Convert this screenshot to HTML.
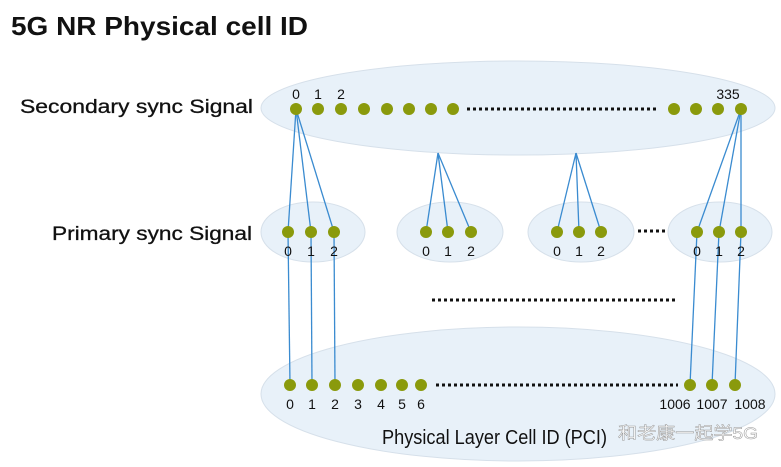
<!DOCTYPE html>
<html><head><meta charset="utf-8"><style>
html,body{margin:0;padding:0;background:#fff;width:781px;height:467px;overflow:hidden}
svg{display:block}
text{font-family:"Liberation Sans","Noto Sans CJK SC",sans-serif}
</style></head><body>
<svg width="781" height="467" viewBox="0 0 781 467" xmlns="http://www.w3.org/2000/svg">
<text x="11" y="35" font-size="26" font-weight="bold" fill="#111" textLength="297" lengthAdjust="spacingAndGlyphs">5G NR Physical cell ID</text>
<text x="20" y="113" font-size="19" fill="#111" stroke="#111" stroke-width="0.3" textLength="233" lengthAdjust="spacingAndGlyphs">Secondary sync Signal</text>
<text x="52" y="240" font-size="19" fill="#111" stroke="#111" stroke-width="0.3" textLength="200" lengthAdjust="spacingAndGlyphs">Primary sync Signal</text>

<g fill="#e8f1f9" stroke="#d6e0ea" stroke-width="1">
<ellipse cx="518" cy="108" rx="257" ry="47"/>
<ellipse cx="313" cy="232" rx="52" ry="30"/>
<ellipse cx="450" cy="232" rx="53" ry="30"/>
<ellipse cx="581" cy="232" rx="53" ry="30"/>
<ellipse cx="720" cy="232" rx="52" ry="30"/>
<ellipse cx="518" cy="394" rx="257" ry="67"/>
</g>

<g stroke="#3a8bd0" stroke-width="1.3" fill="none">
<line x1="296" y1="109" x2="288" y2="232"/><line x1="296" y1="109" x2="311" y2="232"/><line x1="296" y1="109" x2="334" y2="232"/>
<line x1="438" y1="153" x2="426" y2="232"/><line x1="438" y1="153" x2="448" y2="232"/><line x1="438" y1="153" x2="471" y2="232"/>
<line x1="576" y1="153" x2="557" y2="232"/><line x1="576" y1="153" x2="579" y2="232"/><line x1="576" y1="153" x2="601" y2="232"/>
<line x1="741" y1="109" x2="697" y2="232"/><line x1="741" y1="109" x2="719" y2="232"/><line x1="741" y1="109" x2="741" y2="232"/>
<line x1="288" y1="232" x2="290" y2="385"/><line x1="311" y1="232" x2="312" y2="385"/><line x1="334" y1="232" x2="335" y2="385"/>
<line x1="697" y1="232" x2="690" y2="385"/><line x1="719" y1="232" x2="712" y2="385"/><line x1="741" y1="232" x2="735" y2="385"/>
</g>

<g fill="#8a9a0c">
<circle cx="296" cy="109" r="6"/><circle cx="318" cy="109" r="6"/><circle cx="341" cy="109" r="6"/><circle cx="364" cy="109" r="6"/><circle cx="387" cy="109" r="6"/><circle cx="409" cy="109" r="6"/><circle cx="431" cy="109" r="6"/><circle cx="453" cy="109" r="6"/>
<circle cx="674" cy="109" r="6"/><circle cx="696" cy="109" r="6"/><circle cx="718" cy="109" r="6"/><circle cx="741" cy="109" r="6"/>
<circle cx="288" cy="232" r="6"/><circle cx="311" cy="232" r="6"/><circle cx="334" cy="232" r="6"/>
<circle cx="426" cy="232" r="6"/><circle cx="448" cy="232" r="6"/><circle cx="471" cy="232" r="6"/>
<circle cx="557" cy="232" r="6"/><circle cx="579" cy="232" r="6"/><circle cx="601" cy="232" r="6"/>
<circle cx="697" cy="232" r="6"/><circle cx="719" cy="232" r="6"/><circle cx="741" cy="232" r="6"/>
<circle cx="290" cy="385" r="6"/><circle cx="312" cy="385" r="6"/><circle cx="335" cy="385" r="6"/><circle cx="358" cy="385" r="6"/><circle cx="381" cy="385" r="6"/><circle cx="402" cy="385" r="6"/><circle cx="421" cy="385" r="6"/>
<circle cx="690" cy="385" r="6"/><circle cx="712" cy="385" r="6"/><circle cx="735" cy="385" r="6"/>
</g>

<g stroke="#111" stroke-width="3" stroke-dasharray="3 3" fill="none">
<line x1="467" y1="109" x2="659" y2="109"/>
<line x1="638" y1="231" x2="666" y2="231"/>
<line x1="432" y1="300" x2="676" y2="300"/>
<line x1="436" y1="385" x2="678" y2="385"/>
</g>

<g font-size="14" fill="#111" text-anchor="middle">
<text x="296" y="99">0</text><text x="318" y="99">1</text><text x="341" y="99">2</text><text x="728" y="99">335</text>
<text x="288" y="256">0</text><text x="311" y="256">1</text><text x="334" y="256">2</text>
<text x="426" y="256">0</text><text x="448" y="256">1</text><text x="471" y="256">2</text>
<text x="557" y="256">0</text><text x="579" y="256">1</text><text x="601" y="256">2</text>
<text x="697" y="256">0</text><text x="719" y="256">1</text><text x="741" y="256">2</text>
<text x="290" y="409">0</text><text x="312" y="409">1</text><text x="335" y="409">2</text><text x="358" y="409">3</text><text x="381" y="409">4</text><text x="402" y="409">5</text><text x="421" y="409">6</text>
<text x="675" y="409">1006</text><text x="712" y="409">1007</text><text x="750" y="409">1008</text>
</g>
<text x="382" y="444" font-size="20" fill="#111" textLength="225" lengthAdjust="spacingAndGlyphs">Physical Layer Cell ID (PCI)</text>
<text x="618" y="439" font-size="17" fill="#fff" stroke="#999" stroke-width="0.5" textLength="140" lengthAdjust="spacingAndGlyphs">和老康一起学5G</text>
</svg>
</body></html>
